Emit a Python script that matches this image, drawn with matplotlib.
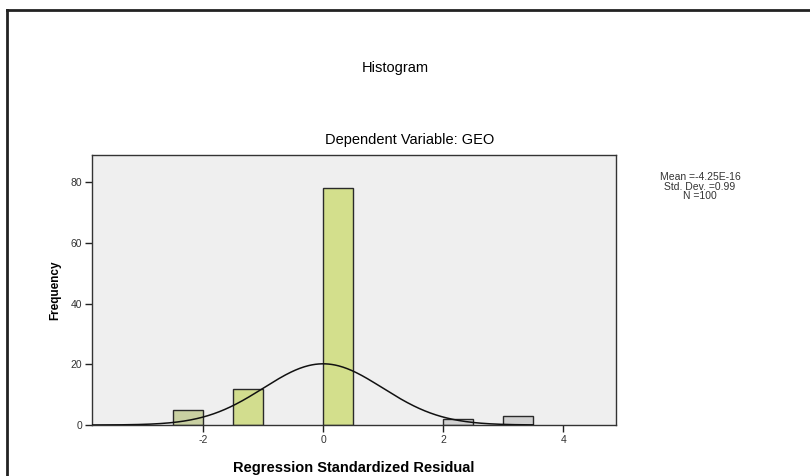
import numpy as np
import matplotlib
matplotlib.use("Agg")
import matplotlib.pyplot as plt
from matplotlib.lines import Line2D

plt.rcParams['font.family'] = ['Liberation Sans', 'DejaVu Sans']
plt.rcParams['axes.unicode_minus'] = False

# Data
bin_left = [-2.5, -1.5, 0.0, 2.0, 3.0]
bin_width = 0.5
frequency = [5, 12, 78, 2, 3]
bar_colors = ['#c9d0a2', '#d2dd8e', '#d3df8c', '#d2d2d2', '#d0d0d0']
mean_val = -4.25e-16
std_val = 0.99
n_val = 100
x_ticks = [-2, 0, 2, 4]
y_ticks = [0, 20, 40, 60, 80]
stats_lines = ['Mean =-4.25E-16', 'Std. Dev. =0.99', 'N =100']

fig = plt.figure(figsize=(8.1, 4.76), dpi=100)
W, H = 810, 476

# outer frame lines (top and left)
fig.add_artist(Line2D([7 / W, 1.0], [1 - 10 / H, 1 - 10 / H], color='#222222', lw=2.0))
fig.add_artist(Line2D([7 / W, 7 / W], [0.0, 1 - 10 / H], color='#222222', lw=2.0))

ax = fig.add_axes([92 / W, 1 - 425 / H, (616 - 92) / W, (425 - 155) / H])
ax.set_facecolor('#efefef')
ax.set_xlim(-3.85, 4.88)
ax.set_ylim(0, 88.9)

ax.bar(bin_left, frequency, width=bin_width, align='edge', color=bar_colors,
       edgecolor='#2a2a2a', linewidth=1.0, zorder=2)

xs = np.linspace(-3.85, 3.5, 400)
pdf = n_val * bin_width * np.exp(-0.5 * ((xs - mean_val) / std_val) ** 2) / (std_val * np.sqrt(2 * np.pi))
ax.plot(xs, pdf, color='#111111', lw=1.1, zorder=3)

ax.set_xticks(x_ticks)
ax.set_yticks(y_ticks)
ax.tick_params(axis='both', labelsize=7.5, length=5, width=1, color='#222222', labelcolor='#333333', direction='out', pad=2)
for s in ax.spines.values():
    s.set_color('#333333')
    s.set_linewidth(1.0)

ax.set_xlabel('Regression Standardized Residual', fontsize=10.5, fontweight='bold', labelpad=12)
ax.set_ylabel('Frequency', fontsize=8.5, fontweight='bold', labelpad=7)

fig.text(395 / W, 1 - 68 / H, 'Histogram', ha='center', va='center', fontsize=10.5)
fig.text(410 / W, 1 - 140 / H, 'Dependent Variable: GEO', ha='center', va='center', fontsize=10.5)

for i, line in enumerate(stats_lines):
    fig.text(700 / W, 1 - (177 + 9.5 * i) / H, line, ha='center', va='center',
             fontsize=7.5, color='#333333')

fig.savefig('out.png', dpi=100, facecolor='white')
